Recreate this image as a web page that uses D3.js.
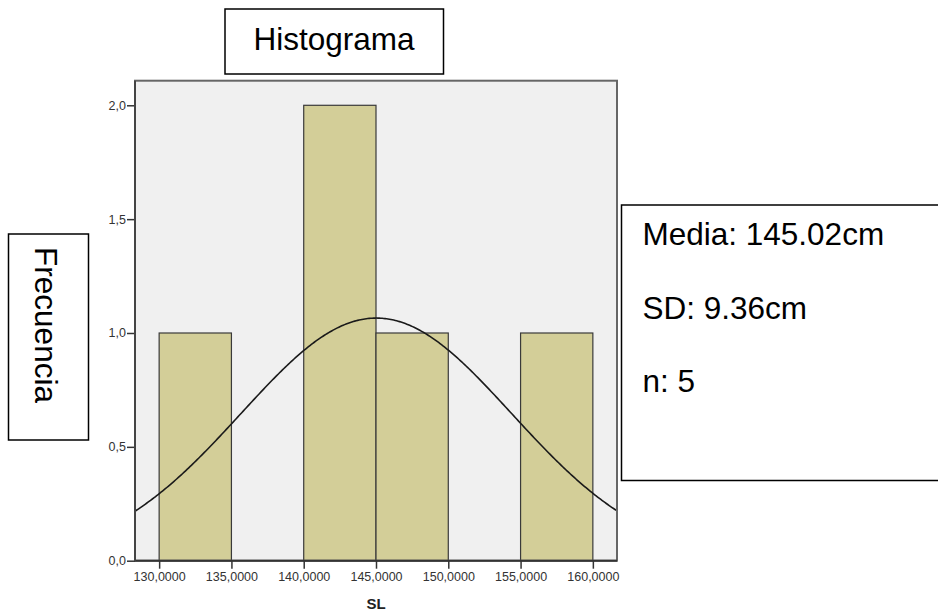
<!DOCTYPE html>
<html>
<head>
<meta charset="utf-8">
<script src="https://cdn.jsdelivr.net/npm/d3@7"></script>
<style>
  html, body { margin: 0; padding: 0; background: #fff; }
  svg { display: block; font-family: "Liberation Sans", Arial, Helvetica, sans-serif; }
</style>
</head>
<body>
<svg id="chart" width="938" height="613"></svg>
<script>
// Histogram bins (lower edges) and frequencies for SL
const binStarts = [130, 135, 140, 145, 150, 155];
const binWidth = 5;
const counts = [1, 0, 2, 1, 0, 1];

// Summary statistics shown in the side box and used for the normal curve
const mean = 145.02;
const sd = 9.36;
const n = 5;
const statLines = ["Media: 145.02cm", "SD: 9.36cm", "n: 5"];

// Axis ticks
const xTicks = [130, 135, 140, 145, 150, 155, 160];
const yTicks = [0, 0.5, 1, 1.5, 2];

const svg = d3.select("#chart");

const plot = { left: 135, right: 617, top: 80.7, bottom: 560.7 };

const x = d3.scaleLinear().domain([128.33, 161.67]).range([plot.left, plot.right]);
const y = d3.scaleLinear().domain([0, 2.108]).range([plot.bottom, plot.top]);

// Plot background
svg.append("rect")
  .attr("x", plot.left).attr("y", plot.top)
  .attr("width", plot.right - plot.left).attr("height", plot.bottom - plot.top)
  .attr("fill", "#f0f0f0");

// Bars
svg.append("g").selectAll("rect")
  .data(binStarts.map((b, i) => ({ x0: b, x1: b + binWidth, c: counts[i] })).filter(d => d.c > 0))
  .join("rect")
  .attr("x", d => x(d.x0))
  .attr("y", d => y(d.c))
  .attr("width", d => x(d.x1) - x(d.x0))
  .attr("height", d => y(0) - y(d.c))
  .attr("fill", "#d3ce98")
  .attr("stroke", "#3a3a3a")
  .attr("stroke-width", 1.2);

// Normal curve scaled to frequency
const clip = svg.append("clipPath").attr("id", "plotClip")
  .append("rect")
  .attr("x", plot.left).attr("y", plot.top)
  .attr("width", plot.right - plot.left).attr("height", plot.bottom - plot.top);

const scaleF = n * binWidth / (sd * Math.sqrt(2 * Math.PI));
const density = v => scaleF * Math.exp(-0.5 * Math.pow((v - mean) / sd, 2));
const xs = d3.range(x.domain()[0], x.domain()[1] + 0.01, 0.1);

svg.append("path")
  .attr("clip-path", "url(#plotClip)")
  .datum(xs)
  .attr("fill", "none")
  .attr("stroke", "#1a1a1a")
  .attr("stroke-width", 1.6)
  .attr("d", d3.line().x(d => x(d)).y(d => y(density(d))));

// Plot frame
svg.append("rect")
  .attr("x", plot.left).attr("y", plot.top)
  .attr("width", plot.right - plot.left).attr("height", plot.bottom - plot.top)
  .attr("fill", "none")
  .attr("stroke", "#666")
  .attr("stroke-width", 2);

// Axes
const fmtY = d => d3.format(".1f")(d).replace(".", ",");
const fmtX = d => d3.format(".4f")(d).replace(".", ",");

const yAxis = svg.append("g")
  .attr("transform", `translate(${plot.left},0)`)
  .call(d3.axisLeft(y).tickValues(yTicks).tickFormat(fmtY).tickSize(8).tickPadding(1));
const xAxis = svg.append("g")
  .attr("transform", `translate(0,${plot.bottom})`)
  .call(d3.axisBottom(x).tickValues(xTicks).tickFormat(fmtX).tickSize(8).tickPadding(3));

[yAxis, xAxis].forEach(g => {
  g.select(".domain").remove();
  g.selectAll(".tick line").attr("stroke", "#333").attr("stroke-width", 1.5);
  g.selectAll(".tick text")
    .attr("fill", "#333")
    .style("font-family", "'Liberation Sans', Arial, sans-serif")
    .style("font-size", "12.5px");
});

// Axis base lines
svg.append("line")
  .attr("x1", plot.left).attr("x2", plot.right)
  .attr("y1", plot.bottom).attr("y2", plot.bottom)
  .attr("stroke", "#333").attr("stroke-width", 2);
svg.append("line")
  .attr("x1", plot.left).attr("x2", plot.left)
  .attr("y1", plot.top).attr("y2", plot.bottom)
  .attr("stroke", "#444").attr("stroke-width", 2);

// X axis title
svg.append("text")
  .attr("x", x(145)).attr("y", 609)
  .attr("text-anchor", "middle")
  .attr("font-weight", "bold")
  .attr("font-size", "15px")
  .attr("fill", "#222")
  .text("SL");

// Title box
svg.append("rect")
  .attr("x", 225).attr("y", 9).attr("width", 218.5).attr("height", 65)
  .attr("fill", "#fff").attr("stroke", "#000").attr("stroke-width", 1.5);
svg.append("text")
  .attr("x", 334).attr("y", 50)
  .attr("text-anchor", "middle")
  .attr("font-size", "31.5px")
  .attr("fill", "#000")
  .text("Histograma");

// Y axis title box (rotated text)
svg.append("rect")
  .attr("x", 8.5).attr("y", 234).attr("width", 80).attr("height", 206)
  .attr("fill", "#fff").attr("stroke", "#000").attr("stroke-width", 1.5);
svg.append("text")
  .attr("transform", "translate(35,325) rotate(90)")
  .attr("text-anchor", "middle")
  .attr("font-size", "31.5px")
  .attr("fill", "#000")
  .text("Frecuencia");

// Statistics box
svg.append("rect")
  .attr("x", 621.5).attr("y", 205).attr("width", 340).attr("height", 275.5)
  .attr("fill", "#fff").attr("stroke", "#000").attr("stroke-width", 1.5);
svg.append("g").selectAll("text")
  .data(statLines)
  .join("text")
  .attr("x", 642.5)
  .attr("y", (d, i) => 245 + i * 73.6)
  .attr("font-size", "31.5px")
  .attr("fill", "#000")
  .text(d => d);
</script>
</body>
</html>
